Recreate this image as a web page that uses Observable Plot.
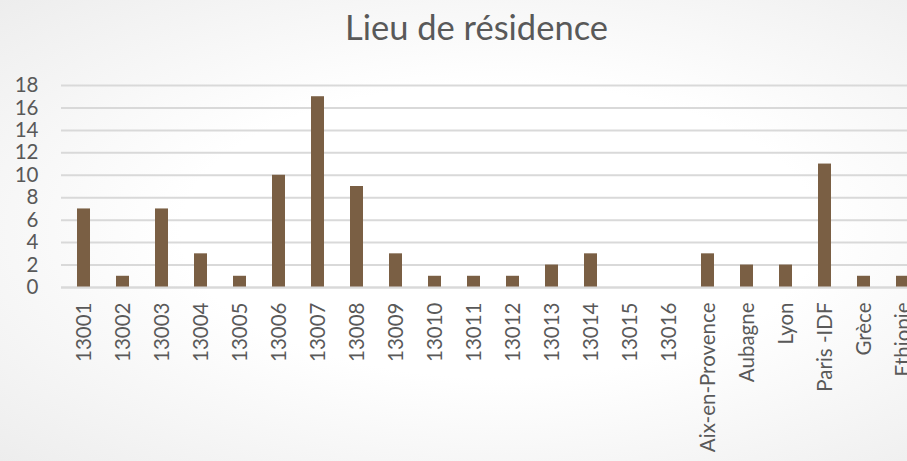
<!DOCTYPE html>
<html><head><meta charset="utf-8">
<script src="https://cdn.jsdelivr.net/npm/d3@7"></script>
<script src="https://cdn.jsdelivr.net/npm/@observablehq/plot@0.6"></script>
<style>
html,body{margin:0;padding:0;width:907px;height:461px;overflow:hidden;}
body{background:radial-gradient(ellipse at 55% 50%, #ffffff 45%, #ededed 100%);font-family:Lato,sans-serif;position:relative;}
#title{position:absolute;left:0;width:953px;top:6px;text-align:center;font-size:34.5px;color:#595959;}
#chart{position:absolute;left:0;top:0;width:925px;}
#chart svg{max-width:none !important;}
</style></head><body>
<div id="title">Lieu de résidence</div>
<div id="chart"></div>
<script>
const categories = ["13001","13002","13003","13004","13005","13006","13007","13008","13009","13010","13011","13012","13013","13014","13015","13016","Aix-en-Provence","Aubagne","Lyon","Paris -IDF","Grèce","Ethiopie"];
const values = [7,1,7,3,1,10,17,9,3,1,1,1,2,3,0,0,3,2,2,11,1,1];
const yTicks = [0,2,4,6,8,10,12,14,16,18];
const data = categories.map((c,i)=>({cat:c, v:values[i]}));
const chart = Plot.plot({
  width: 925, height: 461,
  marginLeft: 61, marginRight: 0, marginTop: 85, marginBottom: 174,
  style: {background:"transparent", fontFamily:"Lato, sans-serif", fontSize:"20.5px", color:"#595959", maxWidth:"none"},
  x: {domain: categories, paddingInner: 0.67, paddingOuter: 0.335, label: null, tickSize: 0, tickPadding: 15, tickRotate: -90},
  y: {domain: [0,18], ticks: yTicks, label: null, tickSize: 0, tickPadding: 23},
  marks: [
    Plot.gridY(yTicks, {stroke:"#d9d9d9", strokeOpacity:1, strokeWidth:2}),
    Plot.barY(data, {x:"cat", y:"v", fill:"#7a5f44"}),
    Plot.ruleY([0], {stroke:"#d9d9d9", strokeWidth:2})
  ]
});
chart.style.maxWidth = "none";
document.getElementById("chart").appendChild(chart);
</script>
</body></html>
